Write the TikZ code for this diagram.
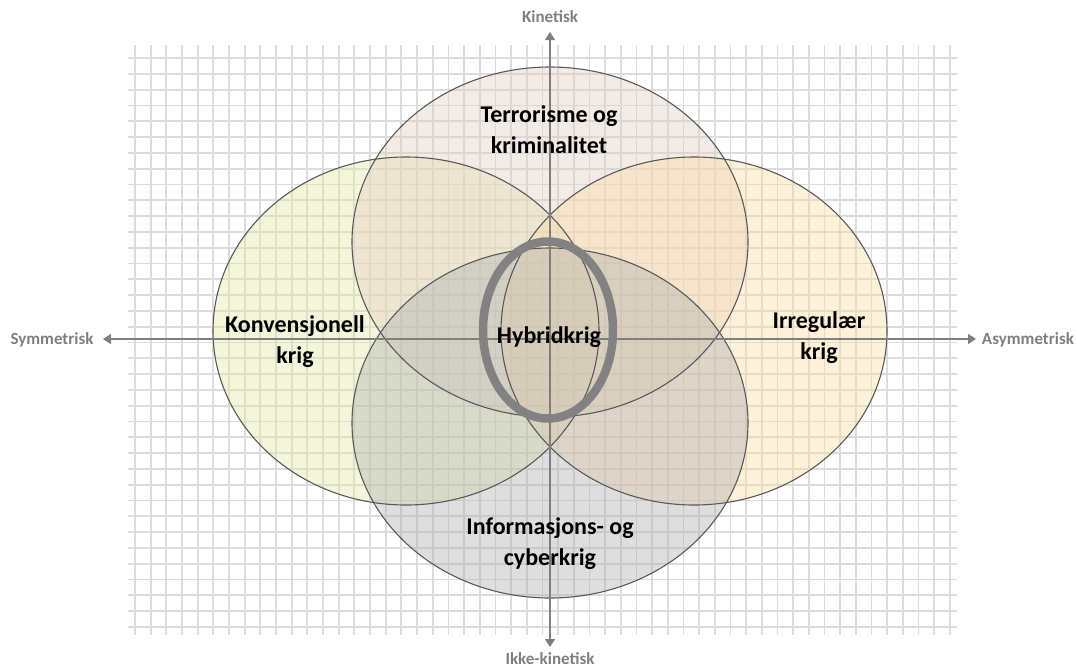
\documentclass[tikz,border=0pt]{standalone}
\usepackage{fontspec}
\setmainfont{Carlito}
\usetikzlibrary{arrows.meta}
\definecolor{axisgray}{HTML}{7F7F7F}
\definecolor{gridgray}{HTML}{DCDCDC}
\definecolor{outline}{HTML}{595959}
\definecolor{hybgray}{HTML}{828282}
\definecolor{leftfill}{HTML}{E2EAA8}
\definecolor{topfill}{HTML}{E2D0C4}
\definecolor{rightfill}{HTML}{FBDDA8}
\definecolor{botfill}{HTML}{B0B0B0}
\tikzset{
  gridline/.style={draw=gridgray, line width=1.8pt},
  axisline/.style={draw=axisgray, line width=1.6pt, {Triangle[length=8pt,width=10pt]}-{Triangle[length=8pt,width=10pt]}},
  axislabel/.style={text=axisgray, font=\bfseries\fontsize{17}{20}\selectfont, inner sep=0pt},
  biglabel/.style={text=black, font=\bfseries\fontsize{24}{31}\selectfont, align=center, inner sep=0pt},
  ring/.style={draw=outline, line width=1.1pt},
  softfill/.style={fill opacity=0.42}
}
\begin{document}
\begin{tikzpicture}[x=1pt,y=-1pt]
\useasboundingbox (0,0) rectangle (1077,670);
% grid
\foreach \i in {0,...,52} \draw[gridline] ({135+15.67*\i},45) -- ({135+15.67*\i},635);
\foreach \j in {0,...,36} \draw[gridline] (128,{58+15.8*\j}) -- (957,{58+15.8*\j});
% fills
\fill[leftfill, softfill] (406,331) ellipse [x radius=193pt, y radius=174pt];
\fill[topfill, softfill] (550,242) ellipse [x radius=198pt, y radius=175pt];
\fill[rightfill, softfill] (694,331) ellipse [x radius=193pt, y radius=174pt];
\fill[botfill, softfill] (550,423) ellipse [x radius=198pt, y radius=175pt];
% outlines
\draw[ring] (406,331) ellipse [x radius=193pt, y radius=174pt];
\draw[ring] (550,242) ellipse [x radius=198pt, y radius=175pt];
\draw[ring] (694,331) ellipse [x radius=193pt, y radius=174pt];
\draw[ring] (550,423) ellipse [x radius=198pt, y radius=175pt];
% axes
\coordinate (axL) at (103,339);
\coordinate (axR) at (976,339);
\coordinate (axT) at (550,32);
\coordinate (axB) at (550,647);
\draw[axisline] (axL) -- (axR);
\draw[axisline] (axT) -- (axB);
% hybrid ring
\draw[draw=hybgray, line width=8.5pt] (548,330) ellipse [x radius=65pt, y radius=88.5pt];
% axis labels
\node[axislabel] (kin) at (550,17) {Kinetisk};
\node[axislabel] (ikke) at (550,659) {Ikke-kinetisk};
\node[axislabel] (sym) at (52,340) {Symmetrisk};
\node[axislabel] (asym) at (1028,340) {Asymmetrisk};
% labels
\node[biglabel] (terror) at (549,130) {Terrorisme og\\kriminalitet};
\node[biglabel] (konv) at (295,342) {Konvensjonell\\krig};
\node[biglabel] (irreg) at (819,338) {Irregulær\\krig};
\node[biglabel] (info) at (550,544) {Informasjons- og\\cyberkrig};
\node[biglabel] (hyb) at (549,337) {Hybridkrig};
\end{tikzpicture}
\end{document}
